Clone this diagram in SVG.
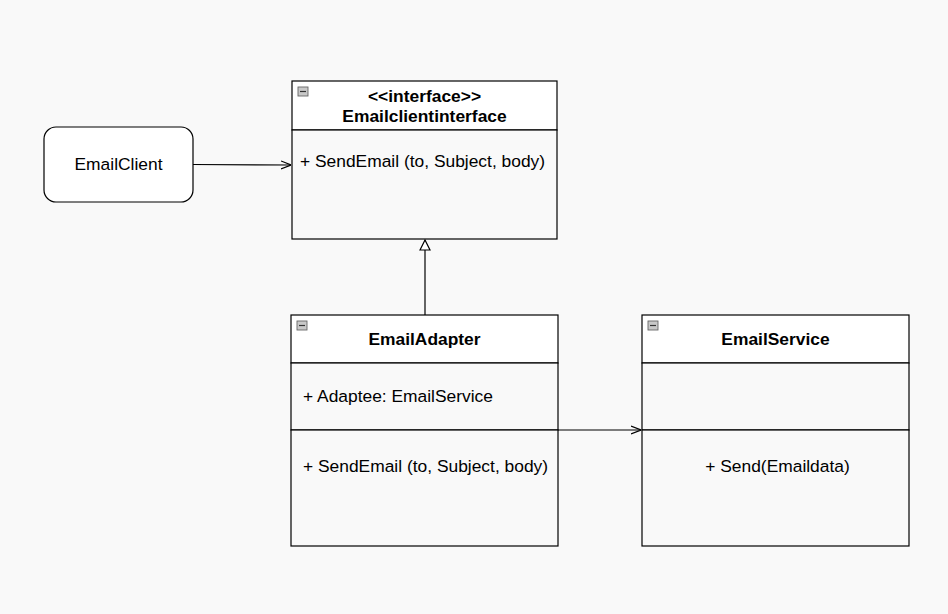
<svg xmlns="http://www.w3.org/2000/svg" width="948" height="614" viewBox="0 0 948 614">
<defs>
<style>
.box{stroke:#000;stroke-width:1.2;}
.hdr{fill:#ffffff;}
.body{fill:#f9f9f9;}
.t{font-family:"Liberation Sans",Arial,sans-serif;font-size:17.4px;fill:#000;}
.b{font-weight:bold;}
.m{text-anchor:middle;}
.line{stroke:#000;stroke-width:1.2;fill:none;}
.icon{fill:#c8c8c8;stroke:#666;stroke-width:0.9;}
</style>
<marker id="open" viewBox="0 0 10 10" refX="10" refY="5" markerWidth="10" markerHeight="10" markerUnits="userSpaceOnUse" orient="auto">
<path d="M0,1 L10,5 L0,9" fill="none" stroke="#000" stroke-width="1.2"/>
</marker>
<marker id="tri" viewBox="0 0 12 12" refX="11" refY="6" markerWidth="12" markerHeight="12" markerUnits="userSpaceOnUse" orient="auto">
<path d="M1,1 L11,6 L1,11 Z" fill="#fff" stroke="#000" stroke-width="1.2"/>
</marker>
</defs>
<rect width="948" height="614" fill="#f9f9f9"/>

<g id="connectors">
<path class="line" d="M193,164.5 L291,165" marker-end="url(#open)"/>
<path class="line" d="M425,315 L425,240" marker-end="url(#tri)"/>
<path class="line" d="M558,430 L641,430" marker-end="url(#open)"/>
</g>

<g id="EmailClient">
<rect x="44" y="127" width="149" height="75" rx="12" ry="12" fill="#fff" class="box"/>
<text class="t m" x="118.5" y="170">EmailClient</text>
</g>

<g id="Emailclientinterface">
<rect x="292" y="81" width="265" height="49" class="box hdr"/>
<rect x="292" y="130" width="265" height="109" class="box body"/>
<rect x="298" y="87" width="10" height="9" class="icon"/>
<line x1="300" y1="91.5" x2="306" y2="91.5" stroke="#333" stroke-width="1.2"/>
<text class="t b m" x="424.5" y="102">&lt;&lt;interface&gt;&gt;</text>
<text class="t b m" x="424.5" y="122">Emailclientinterface</text>
<text class="t" x="300" y="167">+ SendEmail (to, Subject, body)</text>
</g>

<g id="EmailAdapter">
<rect x="291" y="315" width="267" height="48" class="box hdr"/>
<rect x="291" y="363" width="267" height="67" class="box body"/>
<rect x="291" y="430" width="267" height="116" class="box body"/>
<rect x="297" y="321" width="10" height="9" class="icon"/>
<line x1="299" y1="325.5" x2="305" y2="325.5" stroke="#333" stroke-width="1.2"/>
<text class="t b m" x="424.5" y="345">EmailAdapter</text>
<text class="t" x="303" y="402">+ Adaptee: EmailService</text>
<text class="t" x="303" y="472">+ SendEmail (to, Subject, body)</text>
</g>

<g id="EmailService">
<rect x="642" y="315" width="267" height="48" class="box hdr"/>
<rect x="642" y="363" width="267" height="67" class="box body"/>
<rect x="642" y="430" width="267" height="116" class="box body"/>
<rect x="648" y="321" width="10" height="9" class="icon"/>
<line x1="650" y1="325.5" x2="656" y2="325.5" stroke="#333" stroke-width="1.2"/>
<text class="t b m" x="775.5" y="345">EmailService</text>
<text class="t m" x="777.5" y="472">+ Send(Emaildata)</text>
</g>
</svg>
